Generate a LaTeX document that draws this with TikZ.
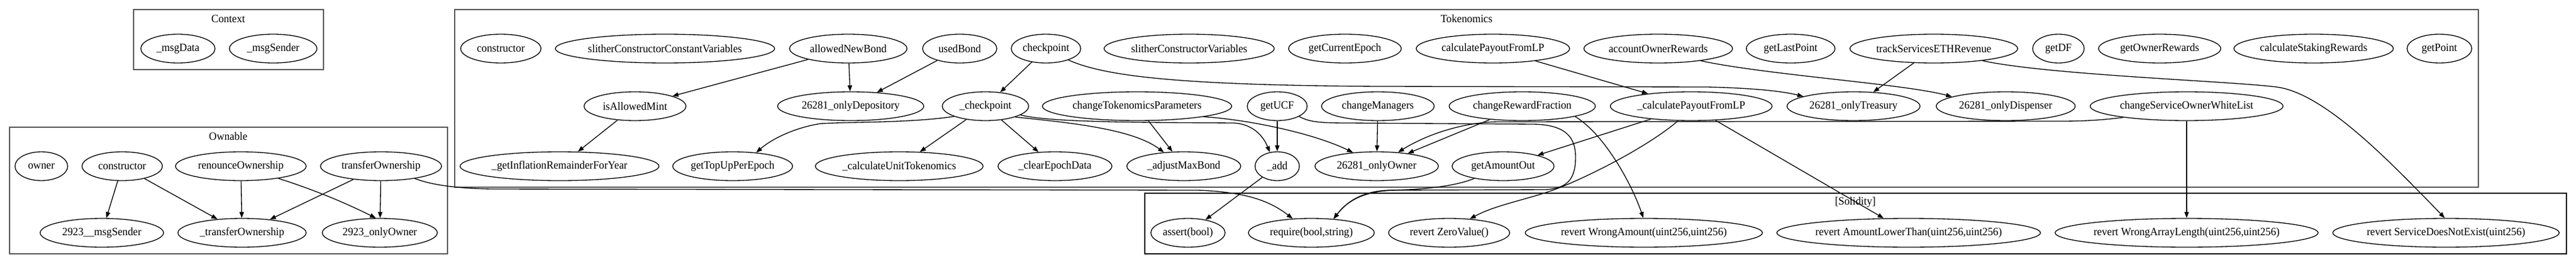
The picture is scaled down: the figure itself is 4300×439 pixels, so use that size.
\documentclass[tikz,border=0pt]{standalone}
\usepackage{fontspec}
\setmainfont{Liberation Serif}[FakeStretch=0.95]
\usepackage{tikz}
\usetikzlibrary{arrows.meta,shapes,positioning,calc}

\begin{document}
\begin{tikzpicture}[x=0.75pt, y=-0.75pt,
    fn/.style={ellipse, draw, line width=1pt, inner sep=0pt, minimum height=36pt, font=\fontsize{14}{16}\selectfont},
    wd/.style={minimum width=#1*1.5pt},
    call/.style={-{Triangle[length=7.5pt,width=5.5pt]}, line width=1pt},
    box/.style={draw=black!67, line width=1.5pt},
    sbox/.style={draw=black, line width=1pt},
    ttl/.style={font=\fontsize{14}{16}\selectfont}]
    \useasboundingbox (0,0) rectangle (4300,439);

    % clusters
    \draw[box] (223,16) rectangle (540,116);
    \draw[box] (16,212) rectangle (747,423);
    \draw[box] (759,16) rectangle (4137,312);
    \draw[sbox] (1911,322) rectangle (4284,423);
    \node[ttl] (ctxTitle) at (381,31) {Context};
    \node[ttl] (owTitle) at (381,227) {Ownable};
    \node[ttl] (tkTitle) at (2448,31) {Tokenomics};
    \node[ttl] (solTitle) at (3097,337) {[Solidity]};

    % Context
    \node[fn, wd=62] (ctxData) at (297,81) {\_msgData};
    \node[fn, wd=73] (ctxSender) at (456,81) {\_msgSender};

    % Ownable
    \node[fn, wd=44] (owOwner) at (69,277) {owner};
    \node[fn, wd=67] (owCtor) at (204,277) {constructor};
    \node[fn, wd=109] (owRenounce) at (402,277) {renounceOwnership};
    \node[fn, wd=101] (owTransfer) at (636,277) {transferOwnership};
    \node[fn, wd=103] (owMsgSender) at (170,388) {2923\_\_msgSender};
    \node[fn, wd=107] (owTransferInt) at (404,388) {\_transferOwnership};
    \node[fn, wd=96] (owOnlyOwner) at (634,388) {2923\_onlyOwner};

    % Tokenomics, top row
    \node[fn, wd=67] (tkCtor) at (836,81) {constructor};
    \node[fn, wd=183] (tkSlitherConst) at (1110,81) {slitherConstructorConstantVariables};
    \node[fn, wd=98] (tkAllowedNewBond) at (1416,81) {allowedNewBond};
    \node[fn, wd=62] (tkUsedBond) at (1602,81) {usedBond};
    \node[fn, wd=58] (tkCheckpointPub) at (1746,81) {checkpoint};
    \node[fn, wd=142] (tkSlitherVars) at (1985,81) {slitherConstructorVariables};
    \node[fn, wd=94] (tkCurrentEpoch) at (2245,81) {getCurrentEpoch};
    \node[fn, wd=128] (tkCalcPayoutPub) at (2492,81) {calculatePayoutFromLP};
    \node[fn, wd=124] (tkAccountRewards) at (2768,81) {accountOwnerRewards};
    \node[fn, wd=74] (tkLastPoint) at (2989,81) {getLastPoint};
    \node[fn, wd=140] (tkTrackRevenue) at (3228,81) {trackServicesETHRevenue};
    \node[fn, wd=43] (tkDF) at (3436,81) {getDF};
    \node[fn, wd=102] (tkOwnerRewards) at (3605,81) {getOwnerRewards};
    \node[fn, wd=133] (tkStaking) at (3862,81) {calculateStakingRewards};
    \node[fn, wd=54] (tkPoint) at (4072,81) {getPoint};

    % Tokenomics, middle row
    \node[fn, wd=85] (tkIsAllowedMint) at (1060,177) {isAllowedMint};
    \node[fn, wd=122] (tkOnlyDepository) at (1420,177) {26281\_onlyDepository};
    \node[fn, wd=72] (tkCheckpoint) at (1645,177) {\_checkpoint};
    \node[fn, wd=158] (tkChangeParams) at (1898,177) {changeTokenomicsParameters};
    \node[fn, wd=50] (tkUCF) at (2132,177) {getUCF};
    \node[fn, wd=94] (tkChangeManagers) at (2300,177) {changeManagers};
    \node[fn, wd=122] (tkChangeFraction) at (2541,177) {changeRewardFraction};
    \node[fn, wd=135] (tkCalcPayout) at (2823,177) {\_calculatePayoutFromLP};
    \node[fn, wd=111] (tkOnlyTreasury) at (3094,177) {26281\_onlyTreasury};
    \node[fn, wd=116] (tkOnlyDispenser) at (3348,177) {26281\_onlyDispenser};
    \node[fn, wd=161] (tkWhiteList) at (3650,177) {changeServiceOwnerWhiteList};

    % Tokenomics, bottom row
    \node[fn, wd=166] (tkInflation) at (934,277) {\_getInflationRemainderForYear};
    \node[fn, wd=100] (tkTopUp) at (1223,277) {getTopUpPerEpoch};
    \node[fn, wd=140] (tkUnitTokenomics) at (1501,277) {\_calculateUnitTokenomics};
    \node[fn, wd=95] (tkClearEpoch) at (1761,277) {\_clearEpochData};
    \node[fn, wd=95] (tkAdjustBond) at (1976,277) {\_adjustMaxBond};
    \node[fn, wd=37] (tkAdd) at (2132,277) {\_add};
    \node[fn, wd=103] (tkOnlyOwner) at (2298,277) {26281\_onlyOwner};
    \node[fn, wd=85] (tkAmountOut) at (2509,277) {getAmountOut};

    % Solidity
    \node[fn, wd=62] (solAssert) at (1983,388) {assert(bool)};
    \node[fn, wd=105] (solRequire) at (2189,388) {require(bool,string)};
    \node[fn, wd=101] (solZero) at (2419,388) {revert ZeroValue()};
    \node[fn, wd=198] (solWrongAmount) at (2744,388) {revert WrongAmount(uint256,uint256)};
    \node[fn, wd=220] (solLowerThan) at (3186,388) {revert AmountLowerThan(uint256,uint256)};
    \node[fn, wd=219] (solArrayLength) at (3650,388) {revert WrongArrayLength(uint256,uint256)};
    \node[fn, wd=189] (solNotExist) at (4083,388) {revert ServiceDoesNotExist(uint256)};

    % Ownable calls
    \draw[call] (owCtor) -- (owMsgSender);
    \draw[call] (owCtor) -- (owTransferInt);
    \draw[call] (owRenounce) -- (owTransferInt);
    \draw[call] (owRenounce.-18) .. controls (520,315) and (570,335) .. (owOnlyOwner.105);
    \draw[call] (owTransfer) -- (owTransferInt);
    \draw[call] (owTransfer) -- (owOnlyOwner);
    \draw[call] (owTransfer.-20) .. controls (720,308) and (760,314) .. (820,315) -- (2000,317) .. controls (2080,320) and (2120,335) .. (solRequire.143);

    % Tokenomics calls
    \draw[call] (tkAllowedNewBond) -- (tkIsAllowedMint);
    \draw[call] (tkAllowedNewBond) -- (tkOnlyDepository);
    \draw[call] (tkUsedBond) -- (tkOnlyDepository);
    \draw[call] (tkIsAllowedMint) -- (tkInflation);
    \draw[call] (tkCheckpointPub) -- (tkCheckpoint);
    \draw[call] (tkCheckpointPub.-27) .. controls (1840,125) and (1950,142) .. (2300,144) -- (2850,145) .. controls (2930,147) and (2975,152) .. (tkOnlyTreasury.169);
    \draw[call] (tkCheckpoint.198) .. controls (1520,205) and (1420,203) .. (1370,206) .. controls (1330,212) and (1290,230) .. (tkTopUp.30);
    \draw[call] (tkCheckpoint) -- (tkUnitTokenomics);
    \draw[call] (tkCheckpoint) -- (tkClearEpoch);
    \draw[call] (tkCheckpoint.-20) .. controls (1790,205) and (1890,215) .. (tkAdjustBond.145);
    \draw[call] (tkCheckpoint.-14) .. controls (1750,204) and (1900,204) .. (2060,205) .. controls (2090,207) and (2108,225) .. (tkAdd.118);
    \draw[call] (tkChangeParams) -- (tkAdjustBond);
    \draw[call] (tkChangeParams.-9) .. controls (2080,199) and (2190,221) .. (tkOnlyOwner.150);
    \draw[call] (tkUCF) -- (tkAdd);
    \draw[call] (tkUCF.-25) .. controls (2185,203) and (2200,205) .. (2250,205) -- (2560,207) .. controls (2615,208) and (2630,230) .. (2630,262) .. controls (2630,300) and (2615,314) .. (2580,316) -- (2330,317) .. controls (2270,318) and (2245,340) .. (solRequire.32);
    \draw[call] (tkChangeManagers) -- (tkOnlyOwner);
    \draw[call] (tkChangeFraction) -- (tkOnlyOwner);
    \draw[call] (tkChangeFraction.-11) .. controls (2680,225) and (2725,310) .. (solWrongAmount.92);
    \draw[call] (tkCalcPayoutPub) -- (tkCalcPayout);
    \draw[call] (tkAccountRewards.-16) .. controls (2950,125) and (3180,140) .. (tkOnlyDispenser.170);
    \draw[call] (tkTrackRevenue) -- (tkOnlyTreasury);
    \draw[call] (tkTrackRevenue.-14) .. controls (3420,125) and (3720,135) .. (3800,145) .. controls (3880,155) and (3990,270) .. (solNotExist.95);
    \draw[call] (tkCalcPayout) -- (tkAmountOut);
    \draw[call] (tkCalcPayout.228) .. controls (2750,245) and (2650,295) .. (2600,314) .. controls (2550,333) and (2500,340) .. (solZero.34);
    \draw[call] (tkCalcPayout) -- (solLowerThan);
    \draw[call] (tkWhiteList.190) .. controls (3510,200) and (3480,202) .. (3440,202) -- (2500,203) .. controls (2440,204) and (2380,225) .. (tkOnlyOwner.33);
    \draw[call] (tkWhiteList) -- (solArrayLength);
    \draw[call] (tkAmountOut.203) .. controls (2430,310) and (2380,316) .. (2320,317) .. controls (2270,318) and (2245,340) .. (solRequire.32);
    \draw[call] (tkAdd) -- (solAssert);
\end{tikzpicture}
\end{document}
